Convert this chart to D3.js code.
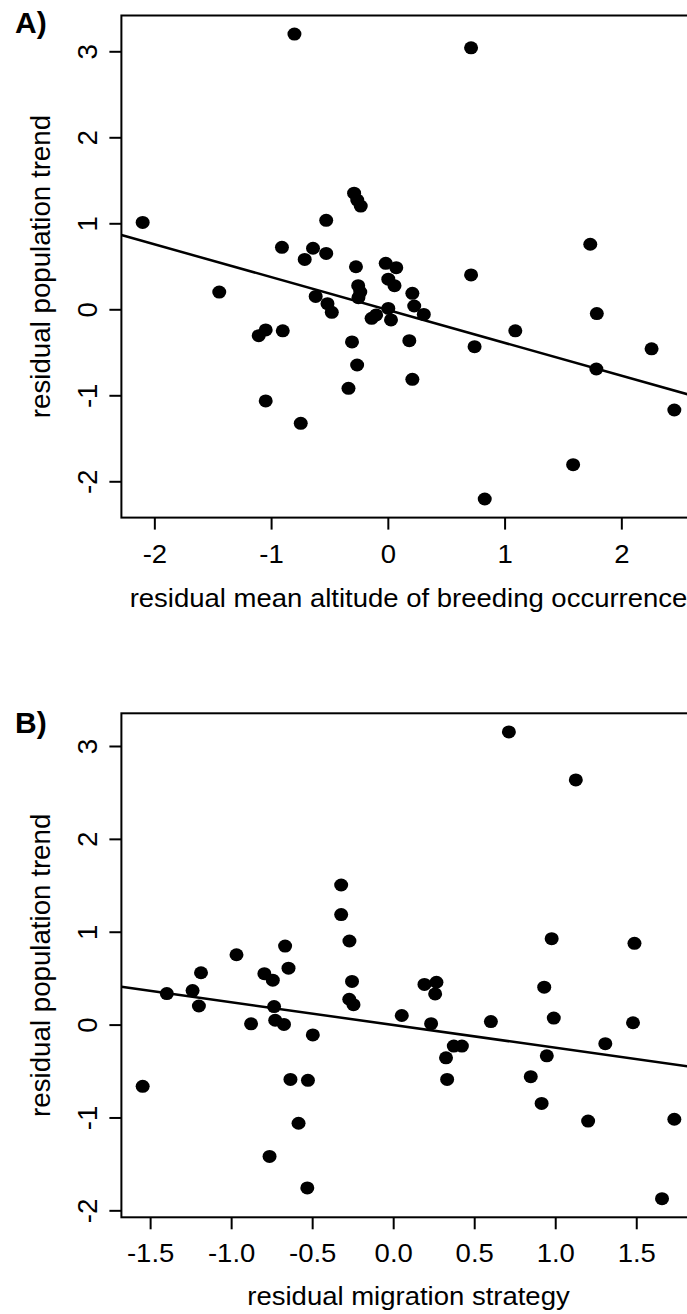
<!DOCTYPE html>
<html>
<head>
<meta charset="utf-8">
<script src="https://cdnjs.cloudflare.com/ajax/libs/d3/7.8.5/d3.min.js"></script>
<style>
  body { margin: 0; background: #fff; }
  svg { display: block; }
</style>
</head>
<body>
<svg id="chart"></svg>
<script>

// A) residual mean altitude of breeding occurrence vs residual population trend
var altX = [-0.80, 0.713, -2.10, -0.289, -0.262, -0.232, -0.528, -0.907, -0.641, -0.528,
            -0.712, 1.734, -0.273, -0.018, 0.072, 0.713, -1.444, 0.004, 0.057, -0.254,
            -0.236, -0.252, 0.21, -0.618, -0.517, 0.226, -0.48, 0.004, 0.308, -0.10,
            -0.139, 0.027, 1.79, -1.106, -1.046, -0.90, 1.092, -0.307, 0.184, 0.743,
            2.259, -0.263, 1.786, 0.21, -0.337, -1.046, 2.454, -0.746, 1.587, 0.83];
var altY = [3.20, 3.04, 1.01, 1.35, 1.27, 1.20, 1.035, 0.72, 0.71, 0.65,
            0.58, 0.756, 0.495, 0.535, 0.484, 0.40, 0.20, 0.35, 0.275, 0.275,
            0.20, 0.135, 0.186, 0.15, 0.065, 0.038, -0.035, 0.01, -0.06, -0.066,
            -0.105, -0.124, -0.05, -0.307, -0.24, -0.25, -0.25, -0.38, -0.365, -0.435,
            -0.46, -0.648, -0.694, -0.814, -0.919, -1.066, -1.171, -1.326, -1.807, -2.206];
var altFit = [-0.008, -0.382];   // intercept, slope
var altTicksX = [-2, -1, 0, 1, 2];
var altTicksY = [-2, -1, 0, 1, 2, 3];

// B) residual migration strategy vs residual population trend
var migX = [0.714, 1.127, -0.321, -0.321, -0.270, 0.978, 1.489, -0.667, -0.967, -0.646,
            -1.186, -0.795, -0.743, -0.254, 0.193, 0.267, 0.932, -1.397, -1.238, -1.199,
            -0.735, -0.271, -0.245, 0.259, -0.877, -0.728, -0.674, -0.496, 0.053, 0.234,
            0.603, 0.991, 1.48, 0.374, 0.424, 0.326, 0.948, 1.309, -1.546, -0.634,
            -0.526, 0.333, 0.849, 0.916, -0.584, 1.203, 1.735, -0.763, -0.530, 1.659];
var migY = [3.151, 2.635, 1.503, 1.185, 0.90, 0.925, 0.875, 0.846, 0.752, 0.608,
            0.558, 0.548, 0.478, 0.465, 0.433, 0.456, 0.403, 0.334, 0.366, 0.20,
            0.194, 0.273, 0.215, 0.33, 0.008, 0.047, 0.002, -0.111, 0.098, 0.01,
            0.033, 0.07, 0.02, -0.231, -0.231, -0.358, -0.336, -0.205, -0.665, -0.59,
            -0.60, -0.59, -0.561, -0.849, -1.062, -1.039, -1.019, -1.419, -1.759, -1.874];
var migFit = [-0.004, -0.245];
var migTicksX = [-1.5, -1.0, -0.5, 0.0, 0.5, 1.0, 1.5];
var migTicksY = [-2, -1, 0, 1, 2, 3];

var W = 687, H = 1314;
var font = "'Liberation Sans', Arial, Helvetica, sans-serif";
var stretch = "scale(1.1,1)";   // horizontal text in the original is a little wide
var hSize = "25px", vSize = "27.7px";

var svg = d3.select("#chart")
    .attr("width", W)
    .attr("height", H);

// R pads the data range by 4% on each side
function pad(arr) {
  var e = d3.extent(arr), d = (e[1] - e[0]) * 0.04;
  return [e[0] - d, e[1] + d];
}

function panel(opt) {
  var x = d3.scaleLinear().domain(pad(opt.xs)).range([121.4, 695.6]);
  var y = d3.scaleLinear().domain(pad(opt.ys)).range([opt.bottom, opt.top]);

  var g = svg.append("g");

  var xAxis = d3.axisBottom(x)
      .tickValues(opt.ticksX)
      .tickSize(12)
      .tickSizeOuter(0)
      .tickFormat(opt.fmtX);

  var yAxis = d3.axisLeft(y)
      .tickValues(opt.ticksY)
      .tickSize(12)
      .tickSizeOuter(0)
      .tickFormat(function(d) { return String(d); });

  var gx = g.append("g")
      .attr("transform", "translate(0," + opt.bottom + ")")
      .call(xAxis);
  gx.select(".domain").remove();
  gx.selectAll("line").attr("stroke", "#000").attr("stroke-width", 2);
  gx.selectAll("text")
      .attr("y", opt.tickLabY)
      .attr("dy", 0)
      .attr("transform", stretch)
      .style("font-family", font)
      .style("font-size", hSize)
      .attr("fill", "#000");

  var gy = g.append("g")
      .attr("transform", "translate(121.4,0)")
      .call(yAxis);
  gy.select(".domain").remove();
  gy.selectAll("line").attr("stroke", "#000").attr("stroke-width", 2);
  gy.selectAll("text")
      .attr("x", 0)
      .attr("dy", 0)
      .attr("text-anchor", "middle")
      .attr("transform", "translate(-24,0) rotate(-90)")
      .style("font-family", font)
      .style("font-size", vSize)
      .attr("fill", "#000");

  // box round the plot region
  g.append("rect")
      .attr("x", x.range()[0])
      .attr("y", opt.top)
      .attr("width", x.range()[1] - x.range()[0])
      .attr("height", opt.bottom - opt.top)
      .attr("fill", "none")
      .attr("stroke", "#000")
      .attr("stroke-width", 2);

  // fitted line across the whole region
  var xd = x.domain();
  g.append("line")
      .attr("x1", x(xd[0]))
      .attr("y1", y(opt.fit[0] + opt.fit[1] * xd[0]))
      .attr("x2", x(xd[1]))
      .attr("y2", y(opt.fit[0] + opt.fit[1] * xd[1]))
      .attr("stroke", "#000")
      .attr("stroke-width", 2.5);

  g.selectAll(".dot")
      .data(d3.range(opt.xs.length))
    .enter().append("ellipse")
      .attr("class", "dot")
      .attr("cx", function(i) { return x(opt.xs[i]); })
      .attr("cy", function(i) { return y(opt.ys[i]); })
      .attr("rx", 7)
      .attr("ry", 6.5)
      .attr("fill", "#000");

  // axis titles
  g.append("text")
      .attr("transform", "translate(" + ((x.range()[0] + x.range()[1]) / 2) + "," + opt.xTitleY + ") " + stretch)
      .attr("text-anchor", "middle")
      .style("font-family", font)
      .style("font-size", hSize)
      .text(opt.xTitle);

  g.append("text")
      .attr("transform", "translate(50," + ((opt.top + opt.bottom) / 2) + ") rotate(-90)")
      .attr("text-anchor", "middle")
      .style("font-family", font)
      .style("font-size", vSize)
      .text("residual population trend");

  g.append("text")
      .attr("x", 15)
      .attr("y", opt.tagY)
      .style("font-family", font)
      .style("font-size", "30px")
      .style("font-weight", "bold")
      .text(opt.tag);
}

panel({
  xs: altX, ys: altY, fit: altFit,
  ticksX: altTicksX, ticksY: altTicksY,
  fmtX: function(d) { return String(d); },
  top: 15.5, bottom: 517.6,
  tickLabY: 45.7, xTitleY: 607,
  xTitle: "residual mean altitude of breeding occurrence",
  tag: "A)", tagY: 32.5
});

panel({
  xs: migX, ys: migY, fit: migFit,
  ticksX: migTicksX, ticksY: migTicksY,
  fmtX: function(d) { return d.toFixed(1); },
  top: 713.3, bottom: 1217.3,
  tickLabY: 44.7, xTitleY: 1305,
  xTitle: "residual migration strategy",
  tag: "B)", tagY: 733.3
});

</script>
</body>
</html>
